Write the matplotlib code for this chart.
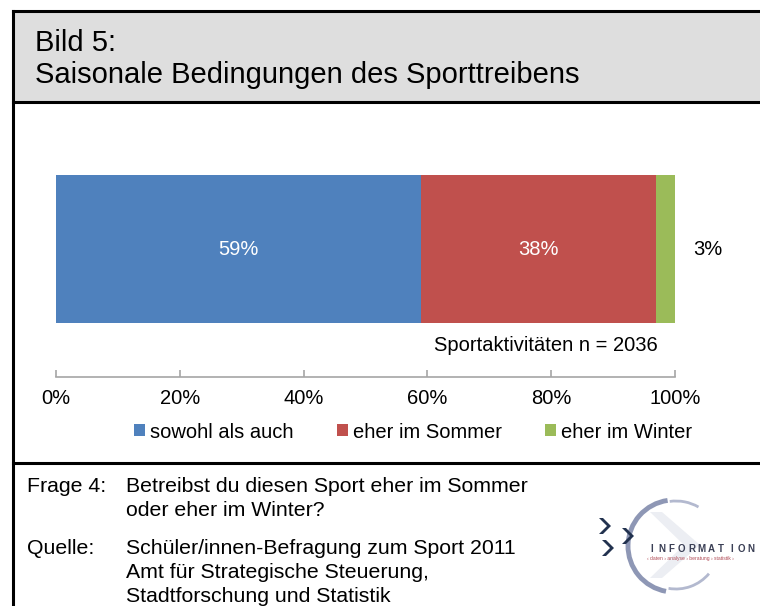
import numpy as np
import matplotlib
matplotlib.use('Agg')
import matplotlib.pyplot as plt
from matplotlib.patches import Rectangle, Arc, Polygon
from matplotlib.lines import Line2D

# Data
categories = ['sowohl als auch', 'eher im Sommer', 'eher im Winter']
shares = [59, 38, 3]
colors = ['#4f81bd', '#c0504d', '#9bbb59']
xticks = [0, 20, 40, 60, 80, 100]
n_label = 'Sportaktivitäten n = 2036'

title_lines = ['Bild 5:', 'Saisonale Bedingungen des Sporttreibens']
frage = ['Betreibst du diesen Sport eher im Sommer', 'oder eher im Winter?']
quelle = ['Schüler/innen-Befragung zum Sport 2011', 'Amt für Strategische Steuerung,',
          'Stadtforschung und Statistik']

W, H = 760, 606
plt.rcParams['font.family'] = ['Liberation Sans', 'DejaVu Sans']
fig = plt.figure(figsize=(W / 100, H / 100), dpi=100)

def fx(px):
    return px / W

def fy(py):
    return 1 - py / H

# frame and header box
fig.add_artist(Rectangle((fx(13), fy(102)), fx(W) - fx(13), fy(11) - fy(102),
                         transform=fig.transFigure, facecolor='#dedede', edgecolor='none'))
for (x0, y0, x1, y1) in [(13, 11, W, 11), (13, 102, W, 102), (13, 463, W, 463), (13, 11, 13, H)]:
    fig.add_artist(Line2D([fx(x0), fx(x1)], [fy(y0), fy(y1)], transform=fig.transFigure,
                          color='black', lw=2.2))

fig.text(fx(35), fy(43), title_lines[0], fontsize=21, va='center', ha='left')
fig.text(fx(35), fy(75), title_lines[1], fontsize=21, va='center', ha='left')

# chart
ax = fig.add_axes([fx(56), fy(377), fx(675) - fx(56), fy(150) - fy(377)])
left = 0
for cat, val, col in zip(categories, shares, colors):
    ax.barh(0, val, left=left, height=0.65, color=col, label=cat)
    left += val
ax.set_xlim(0, 100)
ax.set_ylim(-0.562, 0.435)

fs = 14.5
# value labels
ax.text(shares[0] / 2, 0, f'{shares[0]}%', color='white', ha='center', va='center', fontsize=fs)
ax.text(shares[0] + shares[1] / 2, 0, f'{shares[1]}%', color='white', ha='center', va='center', fontsize=fs)
ax.text(105.3, 0, f'{shares[2]}%', color='black', ha='center', va='center', fontsize=fs, clip_on=False)
ax.text(97.2, -0.425, n_label, ha='right', va='center', fontsize=fs)

for s in ['top', 'left', 'right']:
    ax.spines[s].set_visible(False)
ax.spines['bottom'].set_color('#a6a6a6')
ax.spines['bottom'].set_linewidth(1.2)
ax.set_yticks([])
ax.set_xticks(xticks)
ax.set_xticklabels([f'{t}%' for t in xticks], fontsize=fs)
ax.tick_params(axis='x', direction='in', length=5, color='#a6a6a6', width=1.2, pad=9)

handles, labels = ax.get_legend_handles_labels()
fig.legend(handles, labels, loc='center', bbox_to_anchor=(fx(413), fy(432)), ncol=3, frameon=False,
           fontsize=fs, handlelength=0.55, handleheight=0.55, handletextpad=0.25, columnspacing=2.15)

# footer
ffs = 15.3
fig.text(fx(27), fy(486), 'Frage 4:', fontsize=ffs, va='center')
for i, line in enumerate(frage):
    fig.text(fx(126), fy(486 + 25 * i), line, fontsize=ffs, va='center')
fig.text(fx(27), fy(549), 'Quelle:', fontsize=ffs, va='center')
for i, line in enumerate(quelle):
    fig.text(fx(126), fy(549 + 24 * i), line, fontsize=ffs, va='center')

# logo (rough)
lax = fig.add_axes([fx(580), fy(606), fx(760) - fx(580), fy(490) - fy(606)])
lax.set_xlim(580, 760)
lax.set_ylim(606, 490)
lax.axis('off')
lax.add_patch(Polygon([[662, 512], [700, 545], [662, 578], [650, 578], [684, 545], [650, 512]],
                      closed=True, facecolor='#eceef3', edgecolor='none'))
lax.add_patch(Arc((674, 546), 92, 92, theta1=100, theta2=262, color='#8e97b5', lw=3.5))
lax.add_patch(Arc((676, 546), 86, 86, theta1=40, theta2=100, color='#b3b9cf', lw=2))
lax.add_patch(Arc((676, 546), 90, 90, theta1=262, theta2=300, color='#b3b9cf', lw=2))
for (cx, cy) in [(604, 526), (627, 536), (607, 548)]:
    lax.add_patch(Polygon([[cx - 5, cy - 8], [cx + 3, cy], [cx - 5, cy + 8], [cx - 1, cy + 8],
                           [cx + 7, cy], [cx - 1, cy - 8]], closed=True, facecolor='#22324f'))
for i, ch in enumerate('INFORMATION'):
    lax.text(652 + i * 9.9, 549, ch, fontsize=7, color='#3a3f55', va='center', ha='center',
             fontweight='bold')
lax.text(647, 559, '‹ daten › analyse › beratung › statistik ›', fontsize=3.6, color='#b04a55',
         va='center', ha='left')

fig.savefig('out.png', dpi=100)
